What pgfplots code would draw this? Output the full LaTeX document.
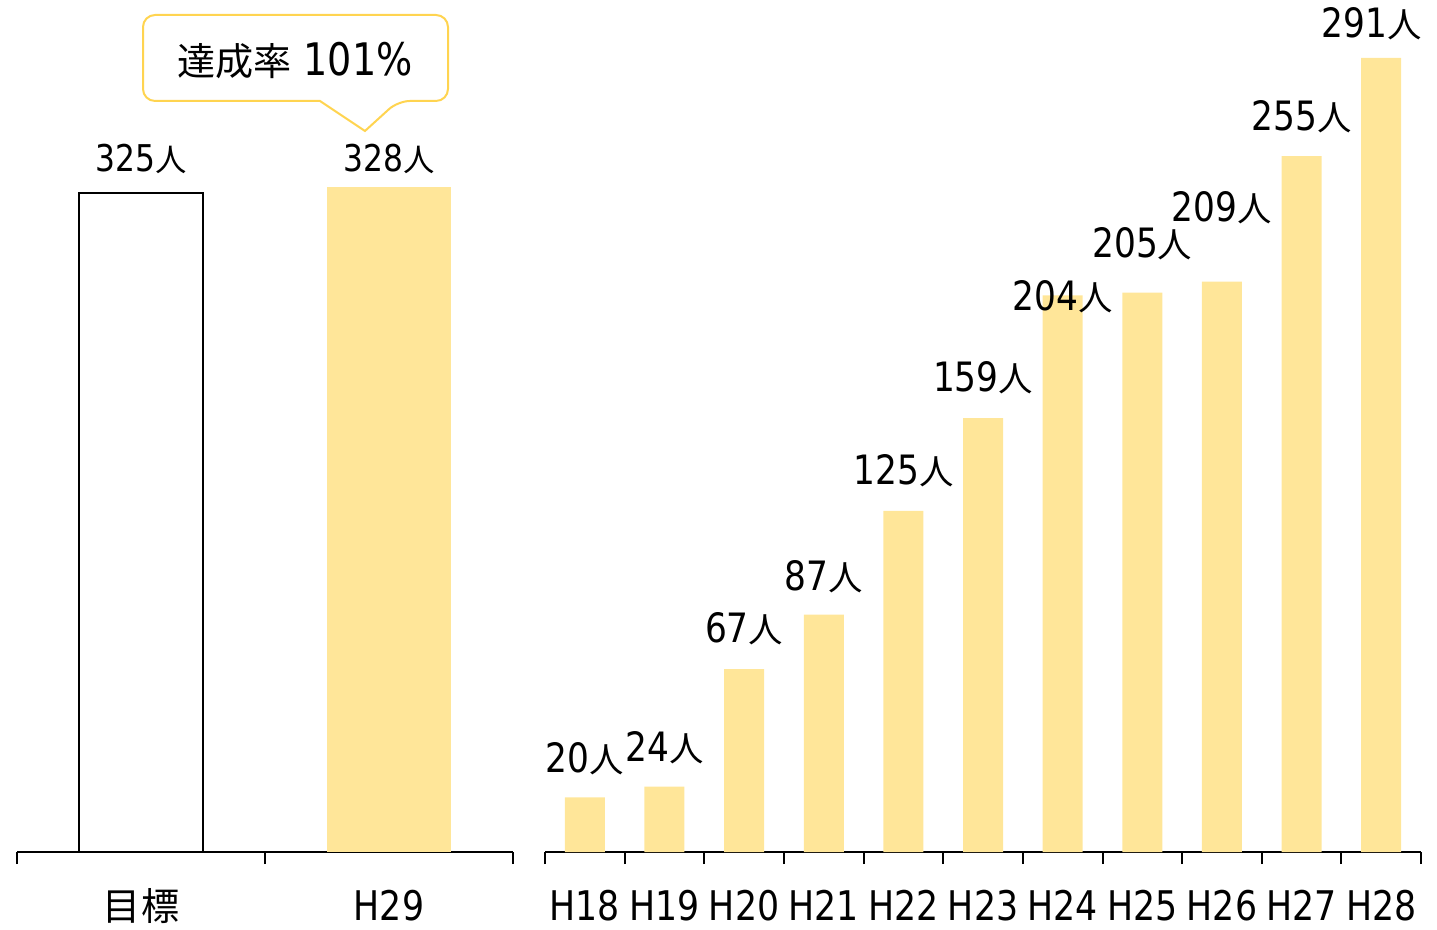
\documentclass[border=0pt]{standalone}
\usepackage{pgfplots}
\pgfplotsset{compat=1.18}
\usepackage{fontspec}
\setmainfont{DejaVu Sans}[FakeStretch=0.85]
\newfontfamily\cjk{Noto Sans CJK JP}[Scale=0.85]
\newcommand{\nin}{{\cjk 人}}
\definecolor{baryellow}{HTML}{FFE699}
\definecolor{calloutyellow}{HTML}{FFD450}

\begin{document}
\begin{tikzpicture}
\pgfplotsset{
  panel/.style={
    scale only axis, anchor=south west,
    height=416bp,
    ymin=0,
    axis x line=bottom, axis y line=none,
    x axis line style={-, line width=1bp},
    xtick style={black, line width=1bp},
    tick align=outside, major tick length=6bp,
    x tick label as interval,
    ytick=\empty,
    ybar, bar shift=0pt,
    clip=false,
    xticklabel style={anchor=base, yshift=-28bp, font=\fontsize{20.5}{20.5}\selectfont},
  }
}
% left panel: target vs result
\begin{axis}[panel, at={(8.5bp,37bp)}, width=248bp,
  xmin=-0.5, xmax=1.5, ymax=410.36,
  xtick={-0.5,0.5,1.5}, xticklabels={{\cjk\fontsize{22.5}{22.5}\selectfont 目標},H29}]
\addplot[fill=white, draw=black, line width=1bp, bar width=62bp] coordinates {(0,325)};
\addplot[fill=baryellow, draw=none, bar width=62bp] coordinates {(1,328)};
\node[anchor=base, font=\fontsize{18.5}{18.5}\selectfont] at (axis cs:0,335.4) {325\nin};
\node[anchor=base, font=\fontsize{18.5}{18.5}\selectfont] at (axis cs:1,335.4) {328\nin};
\end{axis}

% right panel: yearly values
\begin{axis}[panel, at={(272.5bp,37bp)}, width=438bp,
  xmin=-0.5, xmax=10.5, ymax=304.87,
  xtick={-0.5,0.5,1.5,2.5,3.5,4.5,5.5,6.5,7.5,8.5,9.5,10.5},
  xticklabels={H18,H19,H20,H21,H22,H23,H24,H25,H26,H27,H28}]
\addplot[fill=baryellow, draw=none, bar width=20bp] coordinates {
  (0,20) (1,24) (2,67) (3,87) (4,125) (5,159) (6,204) (7,205) (8,209) (9,255) (10,291)};
\begin{scope}[every node/.style={anchor=base, font=\fontsize{20.3}{20.3}\selectfont}]
\node at (axis cs:0,29.3) {20\nin};
\node at (axis cs:1,33.0) {24\nin};
\node at (axis cs:2,76.6) {67\nin};
\node at (axis cs:3,96.0) {87\nin};
\node at (axis cs:4,134.5) {125\nin};
\node at (axis cs:5,168.6) {159\nin};
\node at (axis cs:6,198.6) {204\nin};
\node at (axis cs:7,217.7) {205\nin};
\node at (axis cs:8,230.9) {209\nin};
\node at (axis cs:9,264.2) {255\nin};
\node at (axis cs:9.88,298.3) {291\nin};
\end{scope}
\end{axis}

% callout and frame, in image pixels (y down)
\begin{scope}[shift={(0,463bp)}, x=0.5bp, y=-0.5bp]
\path[use as bounding box] (0,0) rectangle (1437,926);
\draw[calloutyellow, line width=1bp, fill=white, rounded corners=6bp]
  (320,101) -- (143,101) -- (143,15) -- (448,15) -- (448,101) -- (398,101)
  [sharp corners] -- (365,131) -- cycle;
\node[anchor=base, font=\fontsize{22.5}{22.5}\selectfont] at (295,76) {{\cjk 達成率} 101\%};
\end{scope}
\end{tikzpicture}
\end{document}
